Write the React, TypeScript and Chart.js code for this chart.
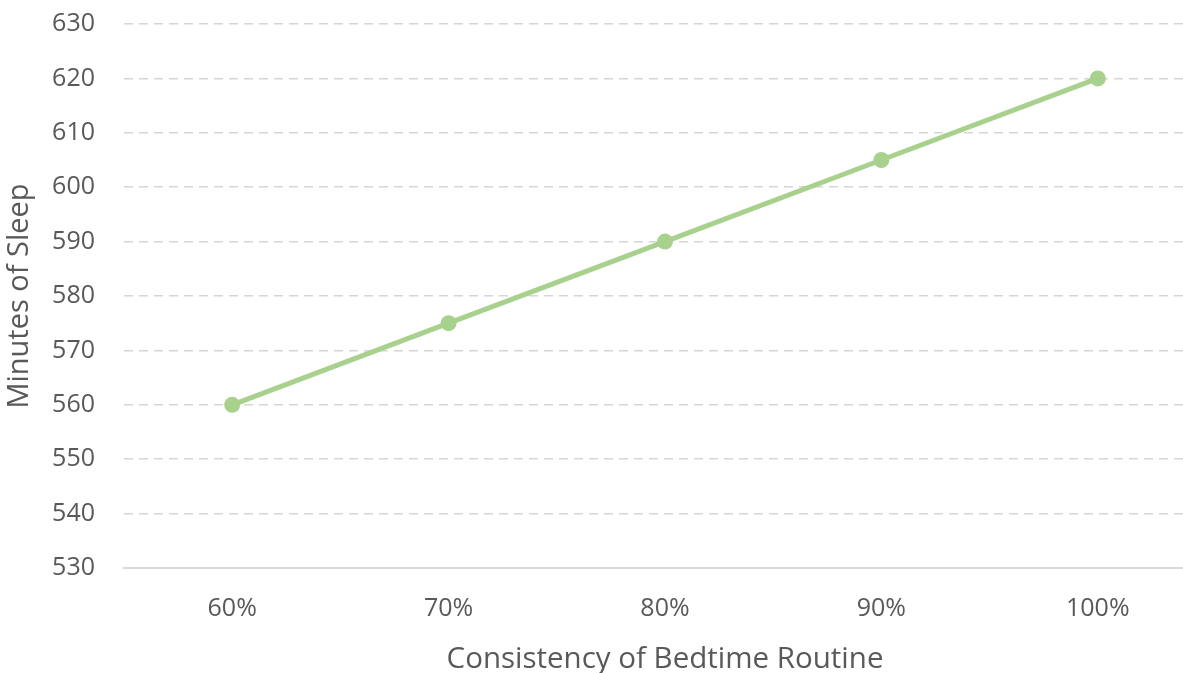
import React, { useEffect, useRef } from "react";
import { Chart, registerables } from "chart.js";

Chart.register(...registerables);

const categories = ["60%", "70%", "80%", "90%", "100%"];
const minutesOfSleep = [560, 575, 590, 605, 620];
const yMin = 530;
const yMax = 630;
const yStep = 10;

const FONT = "'Open Sans', sans-serif";
const TEXT = "#595959";

export default function App() {
  const ref = useRef<HTMLCanvasElement>(null);
  useEffect(() => {
    if (!ref.current) return;
    const chart = new Chart(ref.current, {
      type: "line",
      data: {
        labels: categories,
        datasets: [
          {
            data: minutesOfSleep,
            borderColor: "#A9D18E",
            backgroundColor: "#A9D18E",
            borderWidth: 5,
            pointRadius: 8,
            pointHoverRadius: 8,
            pointBorderWidth: 0,
            tension: 0,
          },
        ],
      },
      options: {
        responsive: false,
        animation: false,
        layout: { padding: { top: 24, right: 0, left: 0, bottom: 0 } },
        plugins: { legend: { display: false }, tooltip: { enabled: false } },
        scales: {
          x: {
            offset: true,
            grid: { display: false },
            border: { display: true, color: "#D9D9D9", width: 2 },
            ticks: { color: TEXT, font: { family: FONT, size: 25 }, padding: 18 },
            title: {
              display: true,
              text: "Consistency of Bedtime Routine",
              color: TEXT,
              font: { family: FONT, size: 29.5 },
              padding: { top: 4, bottom: -4 },
            },
            afterFit: (s: any) => {
              s.height = 105;
              s.paddingLeft = 0;
              s.paddingRight = 0;
            },
          },
          y: {
            min: yMin,
            max: yMax,
            ticks: {
              stepSize: yStep,
              color: TEXT,
              font: { family: FONT, size: 25 },
              padding: 29,
            },
            grid: {
              drawTicks: false,
              lineWidth: 1.5,
              color: (ctx: any) => (ctx.tick && ctx.tick.value === yMin ? "rgba(0,0,0,0)" : "#D6D6D6"),
            },
            border: { display: false, dash: [9, 6] },
            title: {
              display: true,
              text: "Minutes of Sleep",
              color: TEXT,
              font: { family: FONT, size: 29 },
              padding: { top: 2, bottom: 0 },
            },
            afterFit: (s: any) => {
              s.width = 124;
              s.paddingTop = 0;
              s.paddingBottom = 0;
            },
          },
        },
      },
    });
    return () => chart.destroy();
  }, []);
  return (
    <div style={{ position: "fixed", left: 0, top: 0, width: 1183, height: 673, overflow: "hidden", background: "#fff" }}>
      <canvas ref={ref} width={1214} height={673} style={{ display: "block" }} />
    </div>
  );
}
